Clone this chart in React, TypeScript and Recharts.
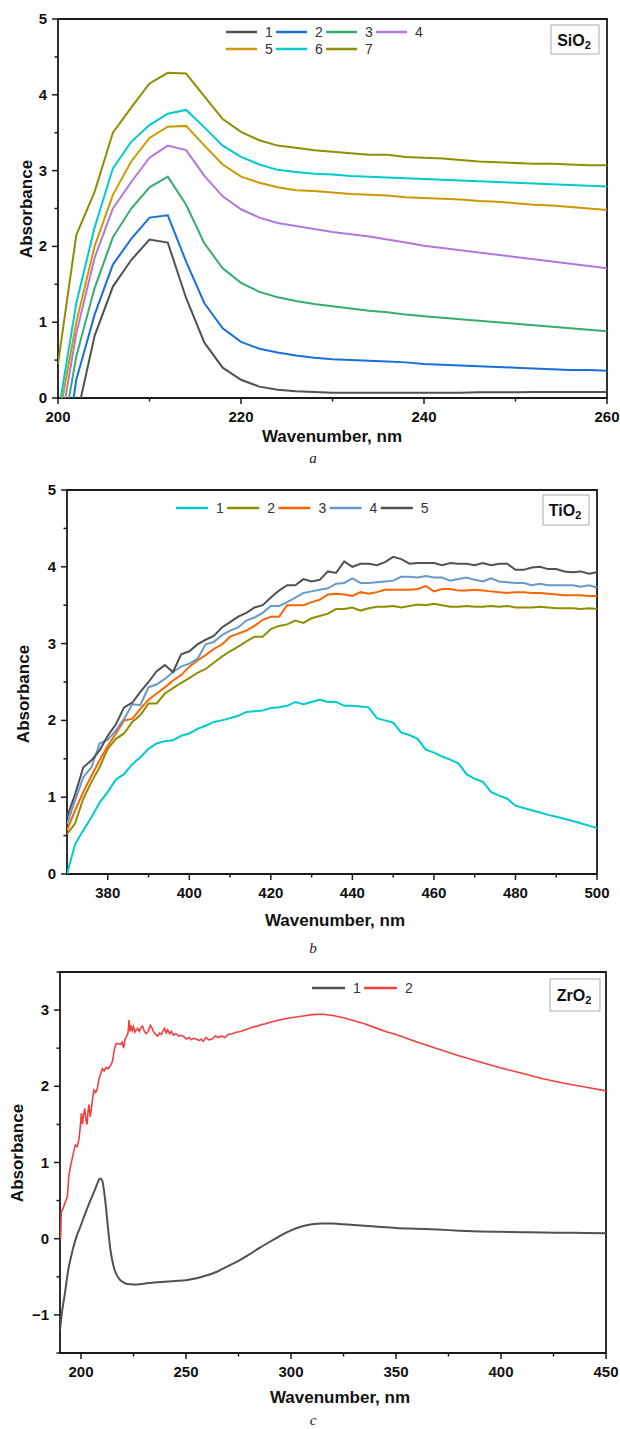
import React from "react";
import { LineChart, Line, XAxis, YAxis, ReferenceArea } from "recharts";

const FONT = "'Liberation Sans', Arial, Helvetica, sans-serif";
const SERIF = "'Liberation Serif', 'Times New Roman', serif";
const INK = "#1a1a1a";

// ---------- panel a: SiO2 ----------
const sioX = [200, 202, 204, 206, 208, 210, 212, 214, 216, 218, 220, 222, 224, 226, 228, 230,
  232, 234, 236, 238, 240, 242, 244, 246, 248, 250, 252, 254, 256, 258, 260];
const sio1 = [-1.5, -0.27, 0.82, 1.47, 1.82, 2.09, 2.05, 1.32, 0.73, 0.40, 0.24, 0.15, 0.11, 0.09, 0.08, 0.07,
  0.07, 0.07, 0.07, 0.07, 0.07, 0.07, 0.07, 0.075, 0.075, 0.075, 0.08, 0.08, 0.08, 0.08, 0.08];
const sio2 = [-1.36, 0.24, 1.10, 1.76, 2.10, 2.38, 2.41, 1.80, 1.25, 0.92, 0.74, 0.65, 0.60, 0.56, 0.53, 0.51,
  0.50, 0.49, 0.48, 0.47, 0.45, 0.44, 0.43, 0.42, 0.41, 0.40, 0.39, 0.38, 0.37, 0.37, 0.36];
const sio3 = [-0.83, 0.55, 1.45, 2.12, 2.50, 2.78, 2.92, 2.55, 2.04, 1.71, 1.52, 1.40, 1.33, 1.28, 1.24, 1.21,
  1.18, 1.15, 1.13, 1.10, 1.08, 1.06, 1.04, 1.02, 1.00, 0.98, 0.96, 0.94, 0.92, 0.90, 0.88];
const sio4 = [-0.57, 0.85, 1.85, 2.50, 2.85, 3.17, 3.33, 3.27, 2.93, 2.66, 2.49, 2.38, 2.31, 2.27, 2.23, 2.19,
  2.16, 2.13, 2.09, 2.05, 2.01, 1.98, 1.95, 1.92, 1.89, 1.86, 1.83, 1.80, 1.77, 1.74, 1.71];
const sio5 = [-0.33, 1.0, 2.0, 2.68, 3.12, 3.43, 3.58, 3.59, 3.33, 3.08, 2.92, 2.84, 2.78, 2.74, 2.73, 2.71,
  2.69, 2.68, 2.67, 2.65, 2.64, 2.63, 2.62, 2.60, 2.59, 2.57, 2.55, 2.54, 2.52, 2.50, 2.48];
const sio6 = [-0.22, 1.25, 2.25, 3.03, 3.38, 3.60, 3.75, 3.80, 3.57, 3.33, 3.18, 3.08, 3.01, 2.98, 2.96, 2.95,
  2.93, 2.92, 2.91, 2.90, 2.89, 2.88, 2.87, 2.86, 2.85, 2.84, 2.83, 2.82, 2.81, 2.80, 2.79];
const sio7 = [0.45, 2.15, 2.72, 3.50, 3.83, 4.15, 4.29, 4.28, 3.98, 3.68, 3.51, 3.40, 3.33, 3.30, 3.27, 3.25,
  3.23, 3.21, 3.21, 3.18, 3.17, 3.16, 3.14, 3.12, 3.11, 3.10, 3.09, 3.09, 3.08, 3.07, 3.07];
const sioSeries = [sio1, sio2, sio3, sio4, sio5, sio6, sio7];
const sioNames = ["1", "2", "3", "4", "5", "6", "7"];
const sioColors = ["#515151", "#1A6FDF", "#37AD6B", "#B177DE", "#CC9900", "#00CBCC", "#8E8E00"];
const sioXTicks = [200, 210, 220, 230, 240, 250, 260];
const sioXMajor = [200, 220, 240, 260];
const absTicks = [0, 0.5, 1, 1.5, 2, 2.5, 3, 3.5, 4, 4.5, 5];
const absMajor = [0, 1, 2, 3, 4, 5];

// ---------- panel b: TiO2 ----------
const tioX = [370, 372, 374, 376, 378, 380, 382, 384, 386, 388,
  390, 392, 394, 396, 398, 400, 402, 404, 406, 408,
  410, 412, 414, 416, 418, 420, 422, 424, 426, 428,
  430, 432, 434, 436, 438, 440, 442, 444, 446, 448,
  450, 452, 454, 456, 458, 460, 462, 464, 466, 468,
  470, 472, 474, 476, 478, 480, 482, 484, 486, 488,
  490, 492, 494, 496, 498, 500];
const tio1 = [0, 0.39, 0.57, 0.74, 0.93, 1.07, 1.23, 1.30, 1.43, 1.52,
  1.63, 1.70, 1.73, 1.74, 1.80, 1.83, 1.89, 1.93, 1.98, 2.00,
  2.03, 2.06, 2.11, 2.12, 2.13, 2.16, 2.17, 2.19, 2.24, 2.21,
  2.24, 2.27, 2.24, 2.24, 2.19, 2.19, 2.18, 2.17, 2.03, 2.00,
  1.97, 1.84, 1.81, 1.76, 1.62, 1.58, 1.53, 1.49, 1.44, 1.30,
  1.24, 1.20, 1.07, 1.02, 0.98, 0.89, 0.86, 0.83, 0.80, 0.77,
  0.745, 0.72, 0.69, 0.66, 0.63, 0.60];
const tio2 = [0.52, 0.66, 0.98, 1.20, 1.39, 1.63, 1.76, 1.83, 1.98, 2.07,
  2.22, 2.22, 2.35, 2.42, 2.49, 2.55, 2.62, 2.67, 2.75, 2.83,
  2.90, 2.96, 3.03, 3.09, 3.09, 3.19, 3.23, 3.25, 3.30, 3.27,
  3.33, 3.36, 3.39, 3.45, 3.45, 3.47, 3.43, 3.46, 3.48, 3.48,
  3.49, 3.47, 3.49, 3.51, 3.50, 3.52, 3.50, 3.48, 3.48, 3.49,
  3.48, 3.48, 3.49, 3.48, 3.49, 3.47, 3.47, 3.47, 3.48, 3.47,
  3.46, 3.46, 3.46, 3.45, 3.46, 3.45];
const tio3 = [0.57, 0.83, 1.07, 1.28, 1.48, 1.67, 1.83, 2.00, 2.02, 2.15,
  2.27, 2.35, 2.43, 2.52, 2.59, 2.70, 2.78, 2.85, 2.93, 2.99,
  3.09, 3.13, 3.17, 3.23, 3.31, 3.35, 3.35, 3.50, 3.50, 3.50,
  3.54, 3.57, 3.64, 3.65, 3.64, 3.62, 3.67, 3.65, 3.67, 3.70,
  3.70, 3.70, 3.70, 3.71, 3.75, 3.68, 3.71, 3.71, 3.69, 3.69,
  3.70, 3.69, 3.68, 3.67, 3.66, 3.67, 3.67, 3.66, 3.66, 3.65,
  3.64, 3.63, 3.63, 3.63, 3.62, 3.62];
const tio4 = [0.65, 0.96, 1.26, 1.39, 1.70, 1.75, 1.87, 2.02, 2.21, 2.20,
  2.43, 2.47, 2.54, 2.63, 2.70, 2.74, 2.80, 2.99, 3.02, 3.11,
  3.17, 3.21, 3.30, 3.34, 3.40, 3.49, 3.49, 3.54, 3.60, 3.66,
  3.68, 3.70, 3.72, 3.78, 3.79, 3.85, 3.79, 3.79, 3.80, 3.81,
  3.82, 3.87, 3.87, 3.86, 3.88, 3.86, 3.86, 3.82, 3.84, 3.86,
  3.83, 3.81, 3.85, 3.81, 3.80, 3.79, 3.79, 3.76, 3.78, 3.76,
  3.76, 3.76, 3.76, 3.74, 3.76, 3.73];
const tio5 = [0.74, 1.04, 1.39, 1.48, 1.61, 1.80, 1.95, 2.17, 2.23, 2.37,
  2.50, 2.64, 2.72, 2.63, 2.86, 2.90, 2.99, 3.05, 3.10, 3.21,
  3.28, 3.35, 3.40, 3.47, 3.50, 3.60, 3.69, 3.76, 3.76, 3.84,
  3.81, 3.83, 3.94, 3.92, 4.07, 4.00, 4.04, 4.04, 4.02, 4.06,
  4.13, 4.10, 4.04, 4.05, 4.05, 4.05, 4.02, 4.05, 4.04, 4.04,
  4.02, 4.05, 4.02, 4.04, 4.04, 3.96, 3.96, 3.99, 4.00, 3.97,
  3.97, 3.94, 3.93, 3.94, 3.91, 3.93];
const tioSeries = [tio1, tio2, tio3, tio4, tio5];
const tioNames = ["1", "2", "3", "4", "5"];
const tioColors = ["#00CBCC", "#8E8E00", "#FB6501", "#6699CC", "#515151"];
const tioXTicks = [380, 390, 400, 410, 420, 430, 440, 450, 460, 470, 480, 490, 500];
const tioXMajor = [380, 400, 420, 440, 460, 480, 500];

// ---------- panel c: ZrO2 ----------
const zr1X = [190, 191, 192, 194, 196, 198, 200, 202, 204, 206, 207, 208, 209, 210, 211, 212, 213, 214, 215, 216,
  218, 220, 222, 225, 230, 235, 240, 245, 250, 255, 260, 265, 270, 275, 280, 285, 290, 295, 300,
  305, 310, 315, 320, 325, 330, 340, 350, 360, 370, 380, 390, 400, 410, 420, 430, 440, 450];
const zr1Y = [-1.2, -0.95, -0.78, -0.40, -0.15, 0.04, 0.18, 0.33, 0.47, 0.60, 0.67, 0.74, 0.79, 0.77, 0.62, 0.38, 0.10, -0.14, -0.30, -0.41,
  -0.52, -0.57, -0.595, -0.60, -0.59, -0.575, -0.565, -0.555, -0.545, -0.52, -0.48, -0.43, -0.36, -0.29, -0.21, -0.12, -0.04, 0.04, 0.11,
  0.16, 0.19, 0.20, 0.20, 0.19, 0.18, 0.16, 0.14, 0.13, 0.12, 0.105, 0.095, 0.09, 0.085, 0.08, 0.078, 0.075, 0.073];
const zr2X = [190.3, 190.6, 191.5, 192.5, 193.5, 194.2, 195.0, 195.8, 196.6, 197.3,
  198.2, 199.0, 199.6, 200.2, 200.7, 201.2, 201.8, 202.4, 202.9, 203.4,
  203.8, 204.4, 205.0, 205.6, 206.2, 207.0, 207.8, 208.6, 209.4, 210.2,
  211.0, 212.0, 213.0, 214.0, 215.0, 216.0, 216.8, 217.8, 218.8, 219.6,
  220.3, 221.0, 221.8, 222.4, 222.9, 223.4, 223.9, 224.4, 225.0, 225.6,
  226.3, 227.0, 227.8, 228.5, 229.3, 230.2, 231.0, 232.0, 233.0, 233.7,
  234.5, 235.5, 236.5, 237.5, 238.3, 239.0, 239.8, 240.6, 241.3, 242.2,
  243.0, 244.0, 245.2, 246.5, 247.8, 249.0, 250.3, 251.5, 252.5, 253.7,
  255.0, 256.2, 257.2, 258.2, 259.5, 261.0, 262.5, 264.0, 265.5, 267.0,
  268.5, 270.0, 272.0, 274.0, 276.0, 278.0, 280.0, 282.0, 284.0, 286.0,
  288.0, 290.0, 293.0, 296.0, 300.0, 305.0, 310.0, 315.0, 320.0, 325.0,
  330.0, 335.0, 340.0, 345.0, 350.0, 360.0, 370.0, 380.0, 390.0, 400.0,
  410.0, 420.0, 430.0, 440.0, 450.0];
const zr2Y = [0.0, 0.35, 0.40, 0.48, 0.55, 0.82, 0.95, 1.05, 1.15, 1.23,
  1.21, 1.30, 1.45, 1.65, 1.50, 1.62, 1.71, 1.55, 1.50, 1.68,
  1.76, 1.60, 1.72, 1.85, 1.95, 1.92, 1.97, 2.10, 2.17, 2.23,
  2.20, 2.25, 2.23, 2.27, 2.33, 2.50, 2.56, 2.56, 2.55, 2.58,
  2.50, 2.62, 2.66, 2.70, 2.87, 2.72, 2.80, 2.73, 2.78, 2.71,
  2.74, 2.76, 2.72, 2.77, 2.79, 2.72, 2.69, 2.72, 2.80, 2.77,
  2.72, 2.68, 2.66, 2.70, 2.68, 2.72, 2.76, 2.70, 2.74, 2.69,
  2.72, 2.67, 2.69, 2.66, 2.67, 2.65, 2.62, 2.64, 2.61, 2.63,
  2.62, 2.60, 2.62, 2.59, 2.64, 2.61, 2.62, 2.66, 2.64, 2.66,
  2.64, 2.68, 2.69, 2.71, 2.72, 2.74, 2.76, 2.78, 2.79, 2.81,
  2.82, 2.84, 2.86, 2.88, 2.90, 2.92, 2.94, 2.945, 2.93, 2.90,
  2.86, 2.82, 2.77, 2.72, 2.68, 2.58, 2.49, 2.40, 2.32, 2.24,
  2.17, 2.10, 2.04, 1.99, 1.94];
const zrNames = ["1", "2"];
const zrColors = ["#515151", "#F14040"];
const zrXTicks = [200, 225, 250, 275, 300, 325, 350, 375, 400, 425, 450];
const zrXMajor = [200, 250, 300, 350, 400, 450];
const zrYTicks = [-1.5, -1, -0.5, 0, 0.5, 1, 1.5, 2, 2.5, 3, 3.5];
const zrYMajor = [-1, 0, 1, 2, 3];

const toRows = (xs: number[], series: number[][]) =>
  xs.map((x, i) => {
    const row: Record<string, number> = { x };
    series.forEach((s, k) => (row["s" + (k + 1)] = s[i]));
    return row;
  });
const toPoints = (xs: number[], ys: number[]) => xs.map((x, i) => ({ x, y: ys[i] }));

const sioRows = toRows(sioX, sioSeries);
const tioRows = toRows(tioX, tioSeries);
const zr1 = toPoints(zr1X, zr1Y);
const zr2 = toPoints(zr2X, zr2Y);

const fmt = (v: number) => (v < 0 ? "\u2212" + Math.abs(v) : String(v));

const xTick = (majors: number[]) => (p: any) => {
  const { x, y, payload } = p;
  const major = majors.includes(payload.value);
  return (
    <g>
      <line x1={x} x2={x} y1={y} y2={y + (major ? 6 : 3.5)} stroke={INK} strokeWidth={1.5} />
      {major && (
        <text x={x} y={y + 24} textAnchor="middle" fontSize={15} fontWeight="bold" fill="#111" fontFamily={FONT}>
          {fmt(payload.value)}
        </text>
      )}
    </g>
  );
};

const yTick = (majors: number[]) => (p: any) => {
  const { x, y, payload } = p;
  const major = majors.includes(payload.value);
  return (
    <g>
      <line x1={x} x2={x - (major ? 6 : 3.5)} y1={y} y2={y} stroke={INK} strokeWidth={1.5} />
      {major && (
        <text x={x - 11} y={y + 5} textAnchor="end" fontSize={15} fontWeight="bold" fill="#111" fontFamily={FONT}>
          {fmt(payload.value)}
        </text>
      )}
    </g>
  );
};

function LegendRow({ names, colors, x0, y, step, len }: { names: string[]; colors: string[]; x0: number; y: number; step: number; len: number }) {
  return (
    <g>
      {names.map((n, i) => (
        <g key={n}>
          <line x1={x0 + i * step} x2={x0 + i * step + len} y1={y} y2={y} stroke={colors[i]} strokeWidth={2.5} />
          <text x={x0 + i * step + len + 8} y={y + 5} fontSize={14} fill="#333" fontFamily={FONT}>{n}</text>
        </g>
      ))}
    </g>
  );
}

function Badge({ x, y, w, h, name }: { x: number; y: number; w: number; h: number; name: string }) {
  return (
    <g>
      <rect x={x} y={y} width={w} height={h} fill="#fff" stroke="#aaa" strokeWidth={1} />
      <text x={x + w / 2 - 1} y={y + h / 2 + 6} textAnchor="middle" fontSize={16} fontWeight="bold" fill="#111" fontFamily={FONT}>
        {name}
        <tspan fontSize={11} dy={3}>2</tspan>
      </text>
    </g>
  );
}

const titleStyle = { fontSize: 17, fontWeight: "bold" as const, fill: "#111", fontFamily: FONT };

export default function App() {
  return (
    <div style={{ position: "absolute", left: 0, top: 0, width: 620, height: 1429, background: "#fff", overflow: "hidden" }}>
      {/* a */}
      <div style={{ position: "absolute", left: 0, top: 0 }}>
        <LineChart width={620} height={470} data={sioRows} margin={{ top: 19, right: 13, bottom: 0, left: 0 }}>
          <XAxis dataKey="x" type="number" domain={[200, 260]} ticks={sioXTicks} interval={0} height={72}
            tickSize={0} tickMargin={0} tickLine={false} axisLine={false} tick={xTick(sioXMajor)} allowDataOverflow />
          <YAxis type="number" domain={[0, 5]} ticks={absTicks} interval={0} width={58}
            tickSize={0} tickMargin={0} tickLine={false} axisLine={false} tick={yTick(absMajor)} allowDataOverflow />
          <ReferenceArea x1={200} x2={260} y1={0} y2={5} fill="none" stroke={INK} strokeWidth={1.8} />
          {sioNames.map((n, i) => (
            <Line key={n} dataKey={"s" + (i + 1)} stroke={sioColors[i]} strokeWidth={2} dot={false} activeDot={false} isAnimationActive={false} />
          ))}
        </LineChart>
      </div>
      {/* b */}
      <div style={{ position: "absolute", left: 0, top: 470 }}>
        <LineChart width={620} height={470} data={tioRows} margin={{ top: 20, right: 23, bottom: 0, left: 0 }}>
          <XAxis dataKey="x" type="number" domain={[370, 500]} ticks={tioXTicks} interval={0} height={66}
            tickSize={0} tickMargin={0} tickLine={false} axisLine={false} tick={xTick(tioXMajor)} allowDataOverflow />
          <YAxis type="number" domain={[0, 5]} ticks={absTicks} interval={0} width={67}
            tickSize={0} tickMargin={0} tickLine={false} axisLine={false} tick={yTick(absMajor)} allowDataOverflow />
          <ReferenceArea x1={370} x2={500} y1={0} y2={5} fill="none" stroke={INK} strokeWidth={1.8} />
          {tioNames.map((n, i) => (
            <Line key={n} dataKey={"s" + (i + 1)} stroke={tioColors[i]} strokeWidth={2} dot={false} activeDot={false} isAnimationActive={false} />
          ))}
        </LineChart>
      </div>
      {/* c */}
      <div style={{ position: "absolute", left: 0, top: 940 }}>
        <LineChart width={620} height={489} margin={{ top: 32, right: 14, bottom: 0, left: 0 }}>
          <XAxis dataKey="x" type="number" domain={[190, 450]} ticks={zrXTicks} interval={0} height={76}
            tickSize={0} tickMargin={0} tickLine={false} axisLine={false} tick={xTick(zrXMajor)} allowDataOverflow />
          <YAxis type="number" domain={[-1.5, 3.5]} ticks={zrYTicks} interval={0} width={60}
            tickSize={0} tickMargin={0} tickLine={false} axisLine={false} tick={yTick(zrYMajor)} allowDataOverflow />
          <ReferenceArea x1={190} x2={450} y1={-1.5} y2={3.5} fill="none" stroke={INK} strokeWidth={1.8} />
          <Line data={zr1} dataKey="y" type="monotone" stroke={zrColors[0]} strokeWidth={2} dot={false} activeDot={false} isAnimationActive={false} />
          <Line data={zr2} dataKey="y" stroke={zrColors[1]} strokeWidth={1.6} dot={false} activeDot={false} isAnimationActive={false} />
        </LineChart>
      </div>

      <svg width={620} height={1429} style={{ position: "absolute", left: 0, top: 0, pointerEvents: "none" }}>
        {/* a */}
        <text transform="translate(26,209) rotate(-90)" textAnchor="middle" dominantBaseline="central" {...titleStyle}>Absorbance</text>
        <text x={332} y={442} textAnchor="middle" {...titleStyle}>Wavenumber, nm</text>
        <text x={313} y={463} textAnchor="middle" fontSize={15} fontStyle="italic" fill="#222" fontFamily={SERIF}>a</text>
        <LegendRow names={sioNames.slice(0, 4)} colors={sioColors.slice(0, 4)} x0={226} y={32} step={50} len={31} />
        <LegendRow names={sioNames.slice(4)} colors={sioColors.slice(4)} x0={226} y={49} step={50} len={31} />
        <Badge x={551} y={25} w={48} h={29} name="SiO" />

        {/* b */}
        <text transform="translate(23,694) rotate(-90)" textAnchor="middle" dominantBaseline="central" {...titleStyle}>Absorbance</text>
        <text x={335} y={926} textAnchor="middle" {...titleStyle}>Wavenumber, nm</text>
        <text x={313} y={953} textAnchor="middle" fontSize={15} fontStyle="italic" fill="#222" fontFamily={SERIF}>b</text>
        <LegendRow names={tioNames} colors={tioColors} x0={176} y={508} step={51.2} len={32} />
        <Badge x={543} y={495} w={46} h={30} name="TiO" />

        {/* c */}
        <text transform="translate(17,1153) rotate(-90)" textAnchor="middle" dominantBaseline="central" {...titleStyle}>Absorbance</text>
        <text x={340} y={1403} textAnchor="middle" {...titleStyle}>Wavenumber, nm</text>
        <text x={313} y={1425} textAnchor="middle" fontSize={15} fontStyle="italic" fill="#222" fontFamily={SERIF}>c</text>
        <LegendRow names={zrNames} colors={zrColors} x0={312} y={988} step={52} len={33} />
        <Badge x={550} y={979} w={50} h={32} name="ZrO" />
      </svg>
    </div>
  );
}
